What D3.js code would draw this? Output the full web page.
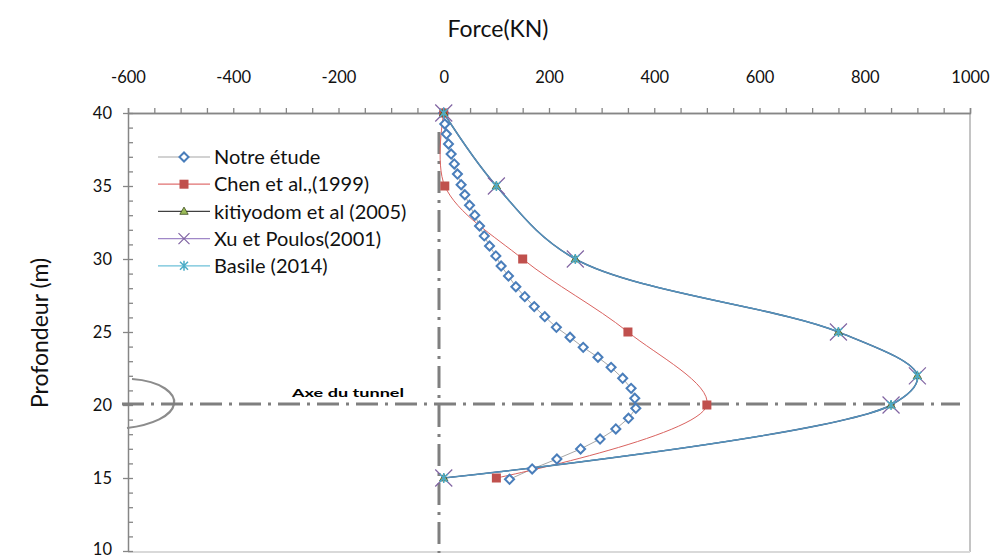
<!DOCTYPE html>
<html><head><meta charset="utf-8">
<script src="https://cdn.jsdelivr.net/npm/d3@7"></script>
<style>body{margin:0;background:#fff} text{font-family:Lato,"Open Sans",sans-serif}</style>
</head><body>
<svg id="c" width="991" height="558"></svg>
<script>
// ---- data ----
const xTicks = [-600,-400,-200,0,200,400,600,800,1000];
const yTicks = [10,15,20,25,30,35,40];
const seriesNames = ["Notre étude","Chen et al.,(1999)","kitiyodom et al (2005)","Xu et Poulos(2001)","Basile (2014)"];
const notreDepth = [40,39.25,38.56,37.88,37.19,36.51,35.82,35.09,34.4,33.68,33.0,32.26,31.58,30.89,30.21,29.52,28.84,28.1,27.42,26.74,26.05,25.32,24.64,23.95,23.27,22.58,21.83,21.14,20.46,19.77,19.09,18.36,17.67,16.99,16.3,15.62,14.91];
const notreForce = [0,2,5,9,14,20,26,33,40,49,59,68,77,87,99,109,123,137,154,172,192,214,240,265,293,318,340,356,363,365,351,327,297,260,215,168,125];
const chenDepth = [40,35,30,25,20,15];
const chenForce = [0,2,150,350,500,100];
const refDepth = [40,35,30,25,22,20,15];
const kitiyodomForce = [0,100,250,750,900,850,0];
const xuForce = [0,100,250,750,900,850,0];
const basileForce = [0,100,250,750,900,850,0];

// ---- layout ----
const svg = d3.select("#c");
const x = d3.scaleLinear().domain([-600,1000]).range([128,970]);
const y = d3.scaleLinear().domain([10,40]).range([551,113]);
const axisCol = "#868686";

// borders
svg.append("line").attr("x1",x(1000)).attr("x2",x(1000)).attr("y1",y(40)).attr("y2",y(10)+1)
  .attr("stroke","#c4c4c4").attr("stroke-width",2);
svg.append("line").attr("x1",x(-600)).attr("x2",x(1000)).attr("y1",y(10)+1).attr("y2",y(10)+1)
  .attr("stroke","#d9d9d9").attr("stroke-width",2);

// top axis
const gx = svg.append("g").attr("transform",`translate(0,${y(40)})`);
gx.call(d3.axisTop(x).tickValues(xTicks).tickSize(0).tickPadding(30).tickFormat(d=>String(d)));
const gxm = svg.append("g").attr("transform",`translate(0,${y(40)})`);
gxm.call(d3.axisTop(x).tickValues(d3.range(-600,1001,50)).tickSize(5).tickFormat(""));
[gx,gxm].forEach(g=>{g.select(".domain").attr("stroke",axisCol).attr("stroke-width",1.5);
  g.selectAll(".tick line").attr("stroke",axisCol).attr("stroke-width",1.3);});
gx.selectAll("text").attr("font-size",16.5).attr("fill","#111");

// left axis
const gy = svg.append("g").attr("transform",`translate(${x(-600)},0)`);
gy.call(d3.axisLeft(y).tickValues(yTicks).tickSize(0).tickPadding(16));
gy.select(".domain").attr("stroke",axisCol).attr("stroke-width",1.5);
gy.selectAll("text").attr("font-size",16.5).attr("fill","#111")
  .attr("dy",d=>d===10?"0.22em":"0.32em");
const gym = svg.append("g").attr("transform",`translate(${x(-600)},0)`);
gym.call(d3.axisRight(y).tickValues(d3.range(10,41,1)).tickSize(5).tickFormat(""));
gym.select(".domain").remove();
gym.selectAll(".tick line").attr("stroke",axisCol).attr("stroke-width",1.3);
const gyM = svg.append("g").attr("transform",`translate(${x(-600)},0)`);
gyM.call(d3.axisLeft(y).tickValues(yTicks).tickSize(5).tickFormat(""));
gyM.select(".domain").remove();
gyM.selectAll(".tick line").attr("stroke",axisCol).attr("stroke-width",1.3);

// titles
svg.append("text").attr("x",498).attr("y",37).attr("text-anchor","middle").attr("font-size",23).attr("fill","#111").text("Force(KN)");
svg.append("text").attr("transform","translate(40,333) rotate(-90)").attr("text-anchor","middle")
  .attr("dy","0.35em").attr("font-size",23).attr("fill","#111").text("Profondeur (m)");

// tunnel arc
svg.append("path").attr("d","M132,379 C162,381 176,394 174,404 C172,416 152,425 127,428")
  .attr("fill","none").attr("stroke","#8c8c8c").attr("stroke-width",2.2);

// dash-dot guides
svg.append("line").attr("x1",439).attr("x2",439).attr("y1",132).attr("y2",553)
  .attr("stroke","#7f7f7f").attr("stroke-width",3).attr("stroke-dasharray","22,7,3,7");
svg.append("line").attr("x1",122).attr("x2",960).attr("y1",404).attr("y2",404)
  .attr("stroke","#7f7f7f").attr("stroke-width",3).attr("stroke-dasharray","22,7,3,7");
svg.append("text").attr("x",292).attr("y",397).attr("font-size",12).attr("font-weight","bold")
  .attr("font-family","'DejaVu Sans Mono'").attr("textLength",112).attr("lengthAdjust","spacingAndGlyphs")
  .attr("fill","#000").text("Axe du tunnel");

// ---- markers ----
function diamond(g,cx,cy){g.append("rect").attr("x",-3.2).attr("y",-3.2).attr("width",6.4).attr("height",6.4)
  .attr("transform",`translate(${cx},${cy}) rotate(45)`).attr("fill","#fff").attr("stroke","#4a7ebb").attr("stroke-width",2);}
function square(g,cx,cy){g.append("rect").attr("x",cx-4.5).attr("y",cy-4.5).attr("width",9).attr("height",9).attr("fill","#c0504d");}
function tri(g,cx,cy){g.append("path").attr("d",d3.symbol(d3.symbolTriangle,30)()).attr("transform",`translate(${cx},${cy+0.5})`)
  .attr("fill","#9bbb59").attr("stroke","#3a4a1c").attr("stroke-width",0.8);}
function cross(g,cx,cy){const r=8.5;g.append("path").attr("d",`M${cx-r},${cy-r}L${cx+r},${cy+r}M${cx-r},${cy+r}L${cx+r},${cy-r}`)
  .attr("stroke","#8064a2").attr("stroke-width",1.2);}
function star(g,cx,cy){const r=4;g.append("path").attr("d",`M${cx-r},${cy-r}L${cx+r},${cy+r}M${cx-r},${cy+r}L${cx+r},${cy-r}M${cx},${cy-r-1}L${cx},${cy+r+1}`)
  .attr("stroke","#4bacc6").attr("stroke-width",1.5);}

const smooth = d3.line().x(d=>x(d[0])).y(d=>y(d[1])).curve(d3.curveCatmullRom.alpha(0.5));
const straight = d3.line().x(d=>x(d[0])).y(d=>y(d[1]));
const notre = notreForce.map((f,i)=>[f,notreDepth[i]]);
const chen = chenForce.map((f,i)=>[f,chenDepth[i]]);
const kit = kitiyodomForce.map((f,i)=>[f,refDepth[i]]);
const xu = xuForce.map((f,i)=>[f,refDepth[i]]);
const bas = basileForce.map((f,i)=>[f,refDepth[i]]);

const plot = svg.append("g");
plot.append("path").attr("d",straight(notre)).attr("fill","none").attr("stroke","#a6a6a6").attr("stroke-width",1);
plot.append("path").attr("d",smooth(chen)).attr("fill","none").attr("stroke","#d9625f").attr("stroke-width",1);
plot.append("path").attr("d",smooth(kit)).attr("fill","none").attr("stroke","#3f6688").attr("stroke-width",1.5);
plot.append("path").attr("d",smooth(xu)).attr("fill","none").attr("stroke","#6a78a8").attr("stroke-width",1.2);
plot.append("path").attr("d",smooth(bas)).attr("fill","none").attr("stroke","#4aa0c4").attr("stroke-width",1.2).attr("opacity",0.7);

notre.forEach(d=>diamond(plot,x(d[0]),y(d[1])));
chen.forEach(d=>square(plot,x(d[0]),y(d[1])));
kit.forEach(d=>tri(plot,x(d[0]),y(d[1])));
xu.forEach(d=>cross(plot,x(d[0]),y(d[1])));
bas.forEach(d=>star(plot,x(d[0]),y(d[1])));

// ---- legend ----
const legLines = ["#a6a6a6","#e07070","#404040","#a088c8","#6cc0d8"];
const legMarks = [diamond,square,tri,cross,star];
const leg = svg.append("g");
seriesNames.forEach((n,i)=>{
  const ly = 157 + i*27.2;
  leg.append("line").attr("x1",158).attr("x2",210).attr("y1",ly).attr("y2",ly).attr("stroke",legLines[i]).attr("stroke-width",1.2);
  if(i===3){const r=5.5;leg.append("path").attr("d",`M${184-r},${ly-r}L${184+r},${ly+r}M${184-r},${ly+r}L${184+r},${ly-r}`).attr("stroke","#8064a2").attr("stroke-width",1.2);}
  else legMarks[i](leg,184,ly);
  leg.append("text").attr("x",214).attr("y",ly).attr("dy","0.36em").attr("font-size",20).attr("fill","#111").text(n);
});
</script>
</body></html>
